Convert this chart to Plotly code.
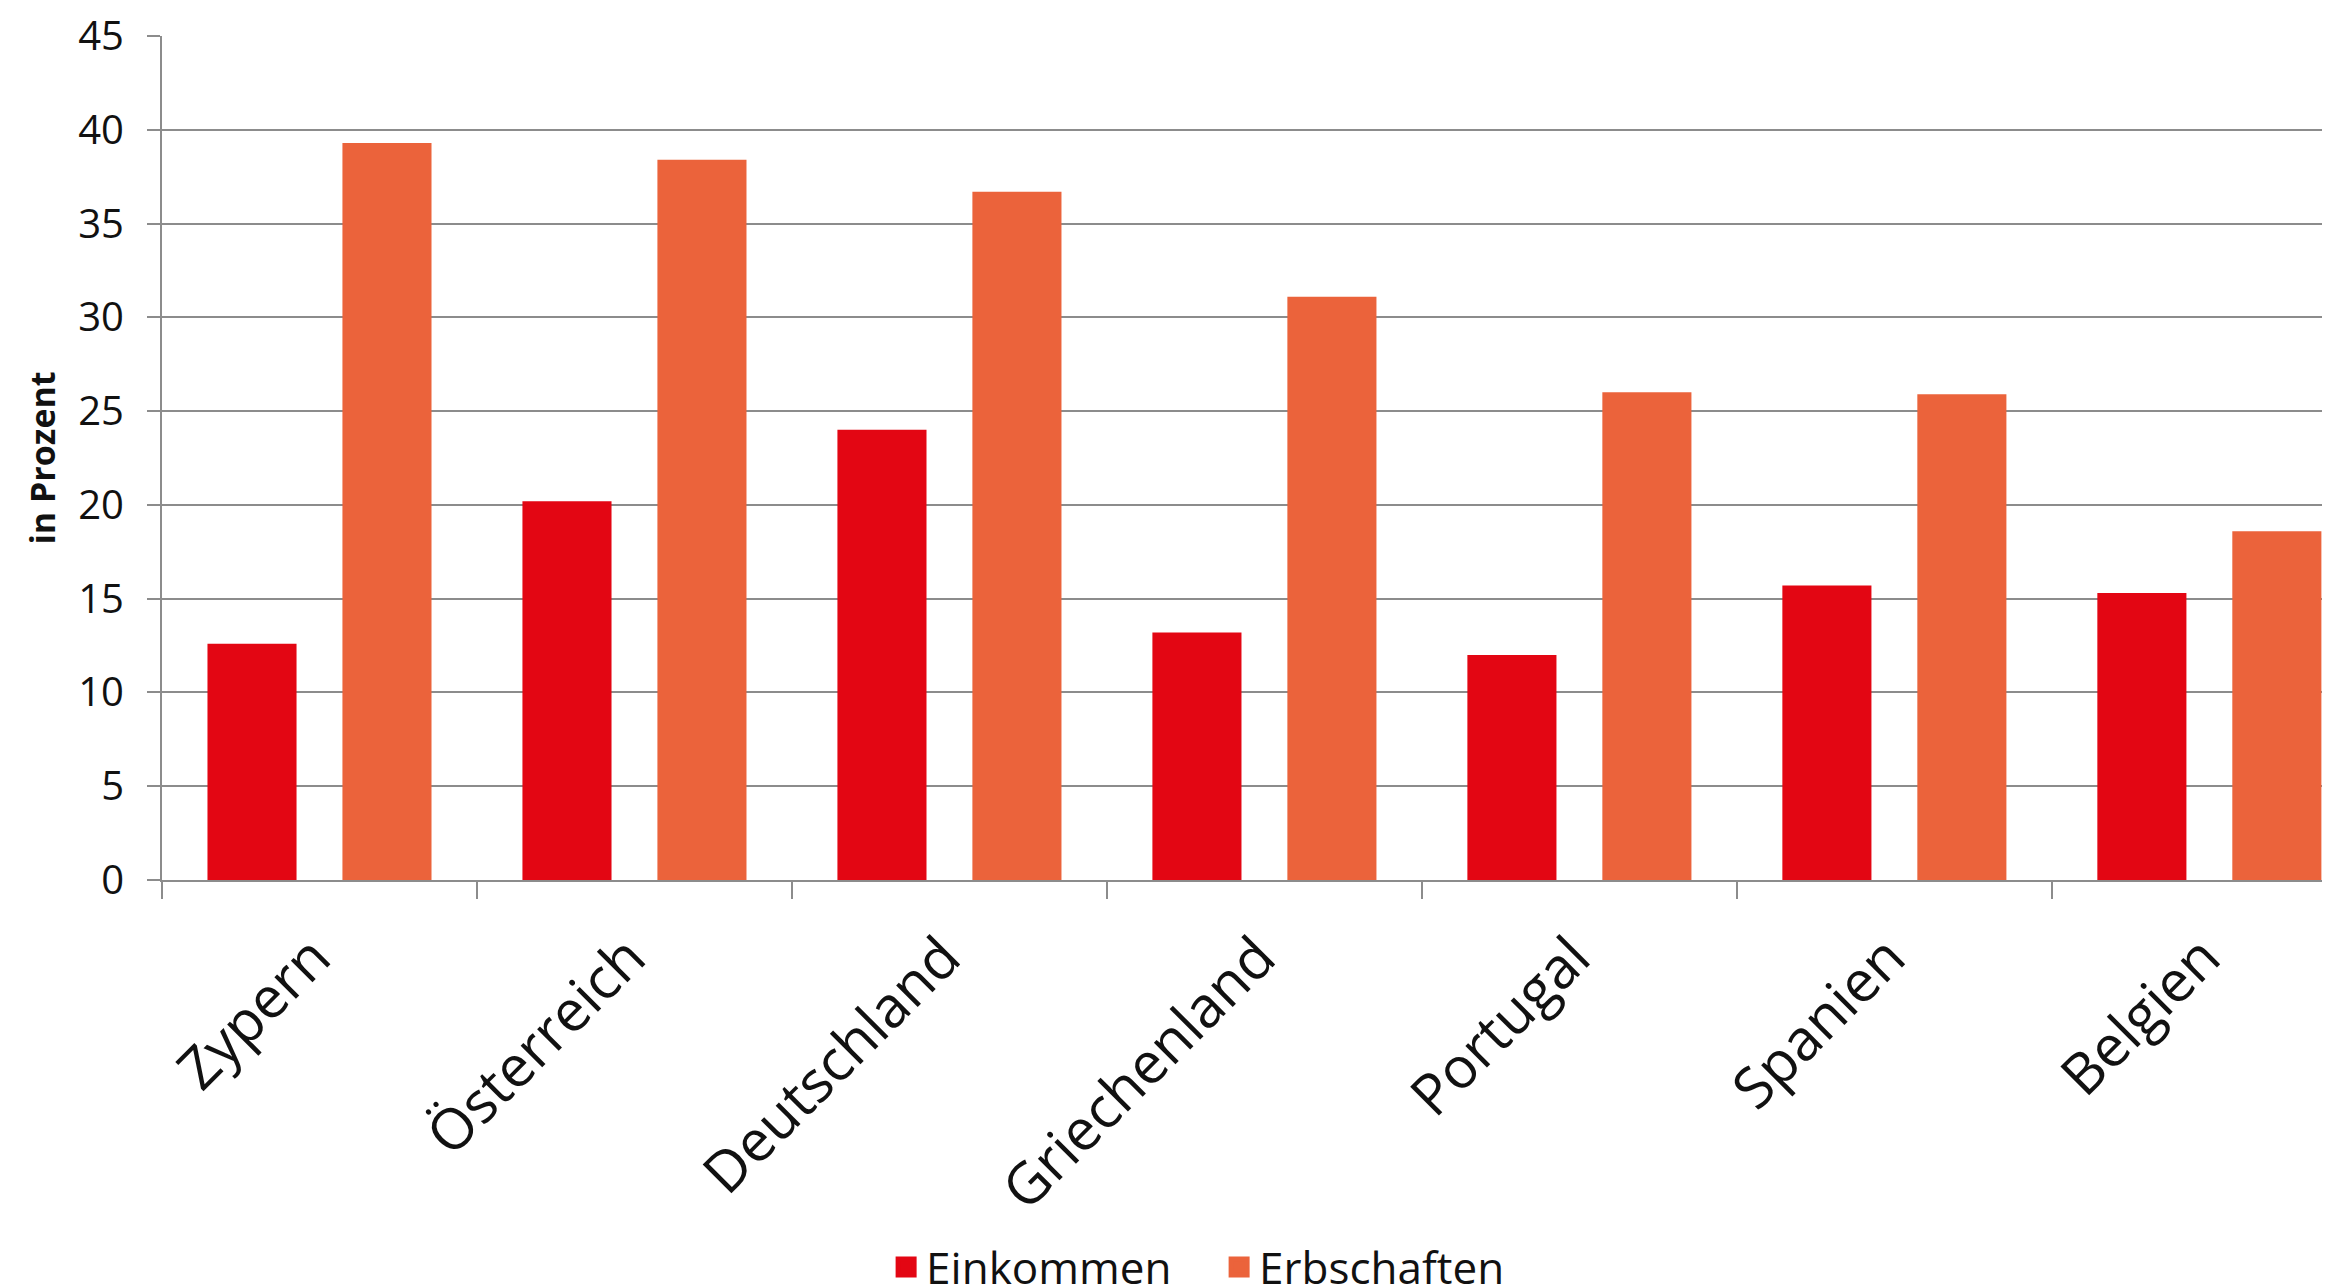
import plotly.graph_objects as go

categories = ["Zypern", "Österreich", "Deutschland", "Griechenland", "Portugal", "Spanien", "Belgien"]
einkommen = [12.6, 20.2, 24.0, 13.2, 12.0, 15.7, 15.3]
erbschaften = [39.3, 38.4, 36.7, 31.1, 26.0, 25.9, 18.6]
series_names = ["Einkommen", "Erbschaften"]
y_ticks = [0, 5, 10, 15, 20, 25, 30, 35, 40, 45]

RED = "#E30613"
ORANGE = "#EB633B"
GRID = "#8C8C8C"
FONT = "Open Sans"

fig = go.Figure()
fig.add_trace(go.Bar(x=categories, y=einkommen, name=series_names[0],
                     marker=dict(color=RED, line=dict(width=0)), showlegend=False))
fig.add_trace(go.Bar(x=categories, y=erbschaften, name=series_names[1],
                     marker=dict(color=ORANGE, line=dict(width=0)), showlegend=False))
# legend entries
for nm, col in zip(series_names, [RED, ORANGE]):
    fig.add_trace(go.Scatter(x=[None], y=[None], mode="markers", name=nm,
                             marker=dict(symbol="square", size=16, color=col,
                                         line=dict(color=col, width=5))))

fig.update_layout(
    width=2322, height=1277,
    margin=dict(l=154, r=0, t=28, b=405, autoexpand=False),
    paper_bgcolor="white", plot_bgcolor="white",
    barmode="group", bargap=0.143, bargroupgap=0.34,
    font=dict(family=FONT, color="#111111"),
    showlegend=True,
    legend=dict(orientation="h", x=0.334, xanchor="left", y=-0.417, yanchor="top",
                font=dict(family=FONT, size=44, color="#111111"),
                entrywidth=288, itemclick=False),
    xaxis=dict(type="category", categoryorder="array", categoryarray=categories,
               range=[-0.5, 6.383], tickson="boundaries", ticks="outside",
               ticklen=17, tickwidth=2, tickcolor=GRID,
               showline=True, linecolor=GRID, linewidth=2,
               tickangle=-45, tickfont=dict(family=FONT, size=57, color="#111111"),
               ticklabelstandoff=19, ticklabelshift=-6, ticklabeloverflow="allow",
               showgrid=False, fixedrange=True),
    yaxis=dict(range=[0, 45], tickvals=y_ticks, ticks="outside", ticklen=13,
               tickwidth=2, tickcolor=GRID, showline=True, linecolor=GRID, linewidth=2,
               showgrid=True, gridcolor=GRID, gridwidth=2, zeroline=False,
               tickfont=dict(family=FONT, size=40, color="#111111"),
               ticklabelstandoff=15, ticklabeloverflow="allow",
               title=dict(text="<b>in Prozent</b>", font=dict(family=FONT, size=34, color="#111111"),
                          standoff=12),
               automargin=True, fixedrange=True),
)

fig.write_html("out.html")
